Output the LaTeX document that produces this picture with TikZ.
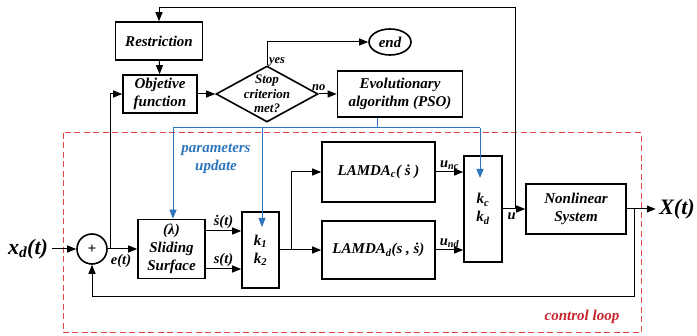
\documentclass[tikz,border=0pt]{standalone}
\usepackage{fontspec}
\setmainfont{Liberation Serif}
\usepackage{xcolor}
\usetikzlibrary{calc, arrows.meta, positioning, shapes.geometric}
\definecolor{updblue}{RGB}{46,117,190}
\definecolor{loopred}{RGB}{200,35,45}
\definecolor{dashred}{RGB}{225,70,70}

\begin{document}
\begin{tikzpicture}[x=1pt, y=-1pt, font=\bfseries\itshape\fontsize{15}{18}\selectfont,
    blk/.style={rectangle, draw, line width=1.6pt, align=center, inner sep=1pt},
    arr/.style={-{Triangle[length=9pt, width=7pt]}, line width=1pt},
    upd/.style={draw=updblue, line width=1pt},
    lbl/.style={font=\bfseries\itshape\fontsize{14.5}{16}\selectfont, inner sep=1.5pt},
    sml/.style={font=\bfseries\itshape\fontsize{12.5}{14}\selectfont, inner sep=1.5pt}]
    \useasboundingbox (0,0) rectangle (697,336);

    \node[blk, minimum width=87pt, minimum height=38pt] (restr) at (159,41) {Restriction};
    \node[blk, minimum width=74pt, minimum height=38pt] (objf) at (160,94) {Objetive\\function};
    \node[diamond, draw, line width=1.6pt, minimum width=102pt, minimum height=56pt, inner sep=0pt,
        label={[sml, font=\bfseries\itshape\fontsize{13}{14.5}\selectfont, align=center]center:{Stop\\criterion\\met?}}] (stop) at (267,94) {};
    \node[ellipse, draw, line width=1.6pt, minimum width=42pt, minimum height=26pt, inner sep=0pt] (endn) at (390,42) {end};
    \node[blk, minimum width=125pt, minimum height=46pt] (evo) at (400,94) {Evolutionary\\algorithm (PSO)};

    \node[circle, draw, line width=1.6pt, minimum size=30pt, inner sep=0pt] (sum) at (92,249) {+};
    \node[blk, minimum width=67pt, minimum height=59pt] (slide) at (171.5,249) {(λ)\\Sliding\\Surface};
    \node[blk, minimum width=37pt, minimum height=76pt] (kk) at (260.5,250) {k\textsubscript{1}\\k\textsubscript{2}};
    \node[blk, minimum width=113pt, minimum height=60pt] (lamc) at (378.5,172) {LAMDA\textsubscript{c}( \.{s} )};
    \node[blk, minimum width=113pt, minimum height=58pt] (lamd) at (378.5,250) {LAMDA\textsubscript{d}(s , \.{s})};
    \node[blk, minimum width=38pt, minimum height=106pt] (kcd) at (483,209) {k\textsubscript{c}\\k\textsubscript{d}};
    \node[blk, minimum width=100pt, minimum height=50pt] (plant) at (576,209) {Nonlinear\\System};

    \node[font=\bfseries\itshape\fontsize{22}{26}\selectfont] (xd) at (28,249) {x\textsubscript{d}(t)};
    \node[font=\bfseries\itshape\fontsize{22}{26}\selectfont] (xout) at (677,209) {X(t)};

    \coordinate (ej) at (110,249);
    \coordinate (kj) at (291,250);
    \coordinate (uj) at (515,209);
    \coordinate (oj) at (634,209);
    \coordinate (top) at (515,8);
    \coordinate (fb) at (634,297);
    \coordinate (pb) at (377,128);
    \coordinate (bl) at (173,128);
    \coordinate (bk) at (262,128);
    \coordinate (br) at (480,128);
    \coordinate (tk) at (262,227);
    \coordinate (tc) at (480,178);

    \draw[draw=dashred, line width=1pt, dash pattern=on 6pt off 3.5pt] (63,133) rectangle (641,333);
    \node[text=loopred] (loop) at (582,317) {control loop};

    \draw[arr] (uj) -- (top) -| (restr.north);
    \draw[arr] (restr) -- (objf);
    \draw[arr] (ej) |- (objf.west);
    \draw[arr] (objf) -- (stop);
    \draw[arr] (stop) -- node[sml, above, pos=0, yshift=1pt] {no} (evo);
    \draw[arr] (stop.north) |- node[sml, right, pos=0.08] {yes} (endn.west);

    \draw[upd] (pb |- evo.south) -- (pb);
    \draw[upd] (bl) -- (br);
    \draw[upd, arr] (bl) -- (bl |- slide.north);
    \draw[upd, arr] (bk) -- (tk);
    \draw[upd, arr] (br) -- (tc);
    \node[text=updblue, align=center] (upd) at (216,159) {parameters\\update};

    \draw[arr] (xd) -- (sum);
    \draw[arr] (sum) -- node[lbl, below, pos=0.45, yshift=-3pt] {e(t)} (slide);
    \draw[arr] ([yshift=18pt]slide.east) -- node[lbl, above] {\.{s}(t)} ([yshift=18pt]slide.east -| kk.west);
    \draw[arr] ([yshift=-20pt]slide.east) -- node[lbl, above] {s(t)} ([yshift=-20pt]slide.east -| kk.west);
    \draw[arr] (kk) -- (lamd);
    \draw[arr] (kj) |- (lamc.west);
    \draw[arr] (lamc) -- node[lbl, above] {u\textsubscript{nc}} (lamc.east -| kcd.west);
    \draw[arr] (lamd) -- node[lbl, above] {u\textsubscript{nd}} (lamd.east -| kcd.west);
    \draw[arr] (kcd) -- node[lbl, below, pos=0.4, yshift=-2pt] {u} (plant);
    \draw[arr] (plant) -- (xout);
    \draw[arr] (oj) -- (fb) -| (sum.south);
\end{tikzpicture}
\end{document}
